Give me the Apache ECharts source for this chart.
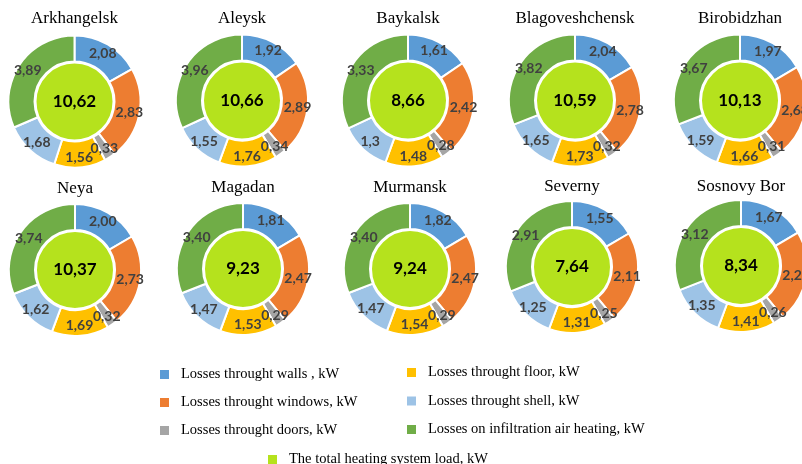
<!DOCTYPE html>
<html>
<head>
<meta charset="utf-8">
<script src="https://cdn.jsdelivr.net/npm/echarts@6/dist/echarts.min.js"></script>
<style>
  html, body { margin: 0; padding: 0; background: #ffffff; }
  #chart { width: 802px; height: 464px; }
</style>
</head>
<body>
<div id="chart"></div>
<script>
// ---- Data (as printed in the reference, comma decimals) ----
var cities = ["Arkhangelsk", "Aleysk", "Baykalsk", "Blagoveshchensk", "Birobidzhan",
              "Neya", "Magadan", "Murmansk", "Severny", "Sosnovy Bor"];
var categories = ["Losses throught walls , kW", "Losses throught windows, kW", "Losses throught doors, kW",
                  "Losses throught floor, kW", "Losses throught shell, kW", "Losses on infiltration air heating, kW"];
var totalName = "The total heating system load, kW";

var walls        = ["2,08", "1,92", "1,61", "2,04", "1,97", "2,00", "1,81", "1,82", "1,55", "1,67"];
var windows      = ["2,83", "2,89", "2,42", "2,78", "2,68", "2,73", "2,47", "2,47", "2,11", "2,27"];
var doors        = ["0,33", "0,34", "0,28", "0,32", "0,31", "0,32", "0,29", "0,29", "0,25", "0,26"];
var floor        = ["1,56", "1,76", "1,48", "1,73", "1,66", "1,69", "1,53", "1,54", "1,31", "1,41"];
var shell        = ["1,68", "1,55", "1,3",  "1,65", "1,59", "1,62", "1,47", "1,47", "1,25", "1,35"];
var infiltration = ["3,89", "3,96", "3,33", "3,82", "3,67", "3,74", "3,40", "3,40", "2,91", "3,12"];
var total        = ["10,62", "10,66", "8,66", "10,59", "10,13", "10,37", "9,23", "9,24", "7,64", "8,34"];

// ---- Styling / layout ----
var colors = ["#5B9BD5", "#ED7D31", "#A5A5A5", "#FFC000", "#9DC3E6", "#70AD47"];
var totalColor = "#B5E21D";
var centers = [[74.5, 101.5], [242, 100.5], [408, 100.5], [575, 100.5], [740, 100.5],
               [75, 270], [243, 269], [410, 269], [572, 267], [741, 266]];
var titleY = [19, 19, 19, 19, 19, 189, 188, 188, 187, 187];

function num(s) { return parseFloat(s.replace(",", ".")); }

var series = [];
var graphics = [];
var lists = [walls, windows, doors, floor, shell, infiltration];

cities.forEach(function (city, i) {
  var c = centers[i];
  series.push({
    type: "pie",
    name: city,
    center: c,
    radius: [40, 66],
    startAngle: 90,
    clockwise: true,
    avoidLabelOverlap: false,
    animation: false,
    silent: true,
    itemStyle: { borderColor: "#ffffff", borderWidth: 2 },
    label: {
      show: true,
      position: "inside",
      formatter: function (p) { return p.data.text; },
      color: "#404040",
      fontFamily: "Lato",
      fontWeight: "bold",
      fontSize: 14
    },
    labelLayout: { hideOverlap: false },
    labelLine: { show: false },
    data: lists.map(function (arr, k) {
      return { name: categories[k], value: num(arr[i]), text: arr[i], itemStyle: { color: colors[k] } };
    })
  });
  series.push({
    type: "pie",
    name: city + " total",
    center: c,
    radius: [0, 39],
    animation: false,
    silent: true,
    itemStyle: { borderColor: "#ffffff", borderWidth: 2 },
    label: {
      show: true,
      position: "center",
      formatter: function (p) { return p.data.text; },
      color: "#000000",
      fontFamily: "Lato",
      fontWeight: "bold",
      fontSize: 17
    },
    labelLine: { show: false },
    data: [{ name: totalName, value: num(total[i]), text: total[i], itemStyle: { color: totalColor } }]
  });
  graphics.push({
    type: "text",
    x: c[0],
    y: titleY[i],
    style: {
      text: city,
      fill: "#000000",
      font: "17px 'Liberation Serif'",
      textAlign: "center",
      textVerticalAlign: "middle"
    },
    silent: true
  });
});

var legendText = { color: "#000000", fontFamily: "Liberation Serif", fontSize: 14.5, padding: [0, 0, 0, 6] };

var option = {
  backgroundColor: "#ffffff",
  animation: false,
  graphic: graphics,
  legend: [
    {
      orient: "vertical", left: 158, top: 367, itemWidth: 11, itemHeight: 11, itemGap: 13,
      icon: "rect", selectedMode: false, textStyle: legendText, padding: 0,
      data: categories.slice(0, 3)
    },
    {
      orient: "vertical", left: 405, top: 365, itemWidth: 11, itemHeight: 11, itemGap: 13.5,
      icon: "rect", selectedMode: false, textStyle: legendText, padding: 0,
      data: categories.slice(3, 6)
    },
    {
      orient: "vertical", left: 266, top: 452, itemWidth: 11, itemHeight: 11, itemGap: 13,
      icon: "rect", selectedMode: false, textStyle: legendText, padding: 0,
      data: [totalName]
    }
  ],
  series: series
};

var chart = echarts.init(document.getElementById("chart"), null, { renderer: "canvas" });
chart.setOption(option);
</script>
</body>
</html>
